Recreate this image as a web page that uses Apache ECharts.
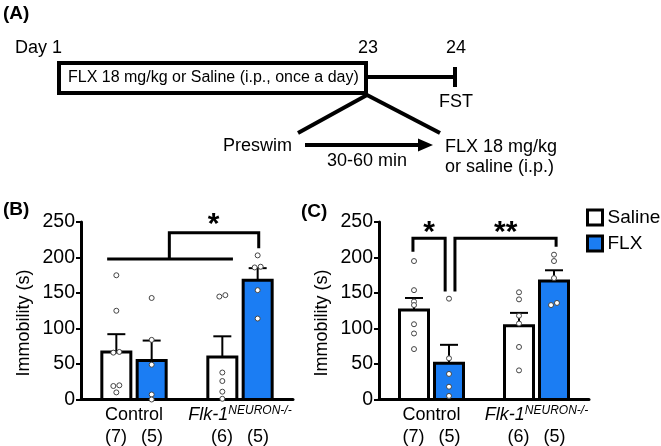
<!DOCTYPE html>
<html><head><meta charset="utf-8">
<script src="https://cdn.jsdelivr.net/npm/echarts@6/dist/echarts.min.js"></script>
<style>html,body{margin:0;padding:0;background:#fff}#c{width:661px;height:446px}</style>
</head><body><div id="c"></div>
<script>
// ---------- data ----------
const groupLabels = ['Control', 'Flk-1'];
const groupSup = ['', 'NEURON-/-'];
const salineN = [7, 6];
const flxN = [5, 5];
const yTicks = [0, 50, 100, 150, 200, 250];

// Panel B
const bSalineMean = [67, 60];
const bSalineSem = [25, 29];
const bFlxMean = [55, 168];
const bFlxSem = [28, 17];
const bDotsCtrlSaline = [175, 125, 67, 66, 20, 19, 10];
const bDotsCtrlFlx = [143, 84, 49, 7, 0];
const bDotsFlkSaline = [145, 147, 38, 26, 11, 1];
const bDotsFlkFlx = [203, 186, 187, 154, 114];

// Panel C
const cSalineMean = [126, 104];
const cSalineSem = [17, 18];
const cFlxMean = [51, 167];
const cFlxSem = [26, 15];
const cDotsCtrlSaline = [195, 154, 138, 133, 106, 93, 71];
const cDotsCtrlFlx = [142, 58, 36, 18, 5];
const cDotsFlkSaline = [151, 141, 118, 107, 74, 41];
const cDotsFlkFlx = [204, 195, 171, 133, 136];

// significance annotations (data coordinates: slot, seconds)
const bSigLines = [
  [[0.74, 198], [4.3, 198]],
  [[2.5, 198], [2.5, 235], [5.03, 235], [5.03, 213]]
];
const bSigStars = [['*', 3.75, 257]];
const cSigLines = [
  [[0.97, 208], [0.97, 227], [1.89, 227], [1.89, 152]],
  [[2.17, 152], [2.17, 227], [5.06, 227], [5.06, 215]]
];
const cSigStars = [['*', 1.43, 246], ['**', 3.62, 246]];

// ---------- layout helpers ----------
const FONT = '"Liberation Sans", Arial, sans-serif';
const BLUE = '#1b7df3';
const salineSlot = [1, 4];
const flxSlot = [2, 5];
const BAR_W = 29;

function jitter(values, slot) {
  const out = [];
  values.forEach((v, i) => {
    let off = 0;
    values.forEach((w, j) => {
      if (j !== i && Math.abs(w - v) < 4) off = (v < w || (v === w && i < j)) ? -0.085 : 0.085;
    });
    out.push([slot + off, v]);
  });
  return out;
}

function barSeries(name, color, gi, slots, means, sems) {
  return {
    type: 'custom', name: name, xAxisIndex: gi, yAxisIndex: gi, z: 2,
    itemStyle: { color: color, borderColor: '#000', borderWidth: 3 },
    encode: { x: 0, y: 1 },
    data: slots.map((s, i) => [s, means[i], sems[i]]),
    renderItem: function (params, api) {
      const x = api.value(0), m = api.value(1), e = api.value(2);
      const p0 = api.coord([x, 0]), p1 = api.coord([x, m]), p2 = api.coord([x, m + e]);
      return {
        type: 'group', children: [
          { type: 'line', shape: { x1: p1[0], y1: p1[1], x2: p2[0], y2: p2[1] }, style: { stroke: '#000', lineWidth: 2 } },
          { type: 'line', shape: { x1: p2[0] - 9, y1: p2[1], x2: p2[0] + 9, y2: p2[1] }, style: { stroke: '#000', lineWidth: 2 } },
          { type: 'rect', shape: { x: p0[0] - BAR_W / 2, y: p1[1], width: BAR_W, height: p0[1] - p1[1] },
            style: { fill: color, stroke: '#000', lineWidth: 3 } }
        ]
      };
    }
  };
}

function dotSeries(gi, dots) {
  return {
    type: 'scatter', xAxisIndex: gi, yAxisIndex: gi, z: 5, silent: true,
    symbol: 'circle', symbolSize: 5,
    itemStyle: { color: '#fff', borderColor: '#444', borderWidth: 1, opacity: 1 },
    data: dots
  };
}

function sigSeries(gi, lines, stars) {
  const items = lines.map((l, i) => ({ kind: 'line', i: i })).concat(stars.map((s, i) => ({ kind: 'star', i: i })));
  return {
    type: 'custom', xAxisIndex: gi, yAxisIndex: gi, z: 6, silent: true,
    encode: { x: 0, y: 1 },
    data: items.map(it => it.kind === 'line' ? [lines[it.i][0][0], lines[it.i][0][1]] : [stars[it.i][1], stars[it.i][2]]),
    renderItem: function (params, api) {
      const it = items[params.dataIndex];
      if (it.kind === 'line') {
        const pts = lines[it.i].map(p => api.coord(p));
        return { type: 'polyline', shape: { points: pts }, style: { stroke: '#000', lineWidth: 3, fill: null } };
      }
      const s = stars[it.i];
      const p = api.coord([s[1], s[2]]);
      return { type: 'text', x: p[0], y: p[1] + 8,
        style: { text: s[0], fontSize: 30, fontWeight: 'bold', fontFamily: FONT, fill: '#000', align: 'center', verticalAlign: 'middle' } };
    }
  };
}

function xAxisFor(gi) {
  return {
    type: 'value', gridIndex: gi, min: 0, max: 6, interval: 0.5,
    splitLine: { show: false }, axisTick: { show: false },
    axisLine: { show: true, onZero: false, lineStyle: { color: '#000', width: 3 } },
    axisLabel: {
      show: true, margin: 5, interval: 0, color: '#000', fontFamily: FONT,
      showMinLabel: false, showMaxLabel: false,
      formatter: function (v) {
        const gIdx = v === 1.5 ? 0 : (v === 4.5 ? 1 : -1);
        if (gIdx < 0) return '';
        const first = groupSup[gIdx] ? '{i|' + groupLabels[gIdx] + '}{sup|' + groupSup[gIdx] + '}' : '{g|' + groupLabels[gIdx] + '}';
        return first + '\n{n|(' + salineN[gIdx] + ')}{n|(' + flxN[gIdx] + ')}';
      },
      rich: {
        g: { fontSize: 18, lineHeight: 21, fontFamily: FONT, color: '#000' },
        i: { fontSize: 18, lineHeight: 21, fontStyle: 'italic', fontFamily: FONT, color: '#000' },
        sup: { fontSize: 12, lineHeight: 14, fontStyle: 'italic', fontFamily: FONT, color: '#000', verticalAlign: 'top' },
        n: { fontSize: 18, lineHeight: 23, width: 36, align: 'center', fontFamily: FONT, color: '#000' }
      }
    }
  };
}

function yAxisFor(gi) {
  return {
    type: 'value', gridIndex: gi, min: yTicks[0], max: yTicks[yTicks.length - 1], interval: 50,
    splitLine: { show: false },
    axisLine: { show: true, lineStyle: { color: '#000', width: 3 } },
    axisTick: { show: true, length: 5, lineStyle: { color: '#000', width: 2 } },
    axisLabel: { fontSize: 19.5, color: '#000', fontFamily: FONT, margin: 6 }
  };
}

// ---------- panel A schematic ----------
const T = (text, x, y, size, opts) => Object.assign({ type: 'text', x: x, y: y,
  style: Object.assign({ text: text, fontSize: size, fontFamily: FONT, fill: '#000', align: 'left', verticalAlign: 'middle' }, opts || {}) });
const L = (x1, y1, x2, y2, w) => ({ type: 'line', shape: { x1, y1, x2, y2 }, style: { stroke: '#000', lineWidth: w || 4 } });

const graphics = [
  T('(A)', 3, 14, 19, { fontWeight: 'bold' }),
  T('Day 1', 15, 48, 18),
  { type: 'rect', shape: { x: 59, y: 63, width: 307, height: 30 }, style: { fill: '#fff', stroke: '#000', lineWidth: 4 } },
  T('FLX 18 mg/kg or Saline (i.p., once a day)', 68, 78, 16),
  T('23', 368, 48, 18, { align: 'center' }),
  T('24', 456, 48, 18, { align: 'center' }),
  L(368, 77, 455, 77),
  L(455, 67, 455, 87),
  T('FST', 456, 102, 18, { align: 'center' }),
  L(367, 95, 298, 133),
  L(367, 95, 440, 133),
  T('Preswim', 223, 146, 18),
  L(305, 145, 420, 145),
  { type: 'polygon', shape: { points: [[418, 138.5], [433, 145], [418, 151.5]] }, style: { fill: '#000' } },
  T('30-60 min', 367, 161, 18, { align: 'center' }),
  T('FLX 18 mg/kg', 445, 147, 18),
  T('or saline (i.p.)', 445, 167, 18),
  T('(B)', 3, 210, 19, { fontWeight: 'bold' }),
  T('(C)', 301, 212, 19, { fontWeight: 'bold' }),
  T('Immobility (s)', 24, 323, 18, { align: 'center' }),
  T('Immobility (s)', 322, 323, 18, { align: 'center' })
];
graphics[graphics.length - 2].rotation = Math.PI / 2;
graphics[graphics.length - 1].rotation = Math.PI / 2;

// ---------- chart ----------
const chart = echarts.init(document.getElementById('c'), null, { renderer: 'canvas' });
chart.setOption({
  animation: false,
  backgroundColor: '#fff',
  grid: [
    { left: 81, width: 212, top: 222, height: 178 },
    { left: 379, width: 210, top: 222, height: 178 }
  ],
  xAxis: [xAxisFor(0), xAxisFor(1)],
  yAxis: [yAxisFor(0), yAxisFor(1)],
  legend: {
    left: 586, top: 208, orient: 'vertical', itemWidth: 15, itemHeight: 15, itemGap: 7, padding: 0,
    icon: 'rect', textStyle: { fontSize: 19, color: '#000', fontFamily: FONT },
    data: [
      { name: 'Saline', itemStyle: { color: '#fff', borderColor: '#000', borderWidth: 3 } },
      { name: 'FLX', itemStyle: { color: BLUE, borderColor: '#000', borderWidth: 3 } }
    ]
  },
  graphic: graphics,
  series: [
    barSeries('Saline', '#fff', 0, salineSlot, bSalineMean, bSalineSem),
    barSeries('FLX', BLUE, 0, flxSlot, bFlxMean, bFlxSem),
    barSeries('Saline', '#fff', 1, salineSlot, cSalineMean, cSalineSem),
    barSeries('FLX', BLUE, 1, flxSlot, cFlxMean, cFlxSem),
    dotSeries(0, [].concat(jitter(bDotsCtrlSaline, 1), jitter(bDotsCtrlFlx, 2), jitter(bDotsFlkSaline, 4), jitter(bDotsFlkFlx, 5))),
    dotSeries(1, [].concat(jitter(cDotsCtrlSaline, 1), jitter(cDotsCtrlFlx, 2), jitter(cDotsFlkSaline, 4), jitter(cDotsFlkFlx, 5))),
    sigSeries(0, bSigLines, bSigStars),
    sigSeries(1, cSigLines, cSigStars)
  ]
});
</script>
</body></html>
